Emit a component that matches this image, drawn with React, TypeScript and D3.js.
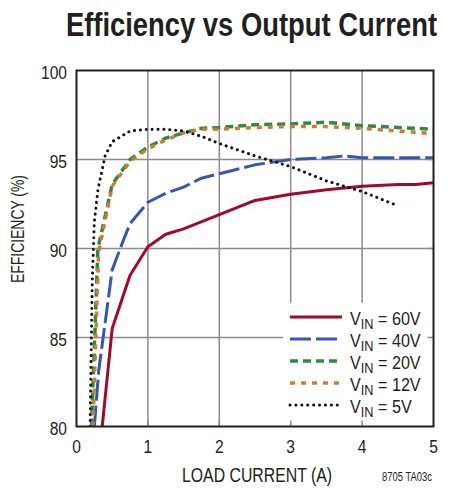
import * as d3 from "d3";

// load current (A) / efficiency (%)
const cur60 = [0.36, 0.5, 0.75, 1.0, 1.25, 1.5, 2.0, 2.5, 3.0, 3.5, 4.0, 4.5, 4.75, 5.0];
const eff60 = [80, 85.5, 88.5, 90.1, 90.8, 91.1, 91.9, 92.7, 93.05, 93.3, 93.5, 93.6, 93.6, 93.7];

const cur40 = [0.25, 0.31, 0.5, 0.66, 0.75, 1.0, 1.25, 1.5, 1.75, 2.0, 2.5, 3.0, 3.5, 3.75, 4.0, 4.5, 5.0];
const eff40 = [80, 83.1, 88.8, 90.5, 91.4, 92.6, 93.1, 93.45, 93.95, 94.2, 94.7, 95.0, 95.1, 95.2, 95.1, 95.1, 95.1];

const cur20 = [0.21, 0.3, 0.5, 0.75, 1.0, 1.25, 1.5, 1.75, 2.0, 2.5, 3.0, 3.5, 3.75, 4.0, 4.5, 5.0];
const eff20 = [80, 90.0, 93.6, 95.0, 95.7, 96.2, 96.5, 96.75, 96.8, 96.95, 97.0, 97.1, 97.0, 96.9, 96.8, 96.7];

const cur12 = [0.23, 0.31, 0.5, 0.75, 1.0, 1.25, 1.5, 1.75, 2.0, 2.5, 3.0, 3.5, 4.0, 4.5, 5.0];
const eff12 = [80, 89.8, 93.5, 94.9, 95.6, 96.1, 96.5, 96.7, 96.7, 96.8, 96.85, 96.85, 96.75, 96.6, 96.45];

const cur5 = [0.19, 0.22, 0.25, 0.3, 0.4, 0.5, 0.75, 1.0, 1.25, 1.5, 1.75, 2.0, 2.5, 3.0, 3.5, 4.0, 4.5];
const eff5 = [80, 88, 91.5, 93.3, 95.2, 96.0, 96.6, 96.7, 96.7, 96.6, 96.3, 95.9, 95.2, 94.6, 93.8, 93.2, 92.4];

const xTicks = [0, 1, 2, 3, 4, 5];
const yTicks = [80, 85, 90, 95, 100];

const seriesNames = ["60V", "40V", "20V", "12V", "5V"];

// no condensed face installed, so Liberation Sans gets squeezed horizontally
const FONT = "'Liberation Sans', Arial, sans-serif";
const INK = "#231f20";

const series = [
  { name: seriesNames[0], cur: cur60, eff: eff60, color: "#9c0a2f", dash: "none", width: 3, cap: "butt" },
  { name: seriesNames[1], cur: cur40, eff: eff40, color: "#3557b3", dash: "21 5", width: 3, cap: "butt" },
  { name: seriesNames[2], cur: cur20, eff: eff20, color: "#2e8a40", dash: "8 5", width: 3.5, cap: "butt" },
  { name: seriesNames[3], cur: cur12, eff: eff12, color: "#cb7d35", dash: "5 6", width: 3.5, cap: "butt" },
  { name: seriesNames[4], cur: cur5, eff: eff5, color: "#111111", dash: "0.1 5.8", width: 3, cap: "round" },
];

const squeeze = (x: number, y: number, k = 0.82) => `translate(${x},${y}) scale(${k},1)`;

export default function App() {
  const width = 453;
  const height = 500;
  const plot = { left: 76.5, right: 433.5, top: 70.5, bottom: 426.5 };

  const x = d3.scaleLinear().domain([0, 5]).range([plot.left, plot.right]);
  const y = d3.scaleLinear().domain([80, 100]).range([plot.bottom, plot.top]);

  const line = d3
    .line<[number, number]>()
    .x((d) => x(d[0]))
    .y((d) => y(d[1]));

  // legend box, white, hides the grid underneath
  const legend = { x0: 283, y0: 303, rowY: 317, step: 22, lineX0: 290, lineX1: 342, textX: 350 };

  return (
    <svg
      width={width}
      height={height}
      style={{ position: "absolute", left: 0, top: 0, background: "#fff" }}
      fontFamily={FONT}
    >
      <defs>
        <clipPath id="plot-clip">
          <rect x={plot.left} y={plot.top} width={plot.right - plot.left} height={plot.bottom - plot.top} />
        </clipPath>
      </defs>

      <text
        transform={squeeze(251.5, 36, 0.83)}
        fontSize={33}
        fontWeight="bold"
        fill={INK}
        textAnchor="middle"
      >
        Efficiency vs Output Current
      </text>

      {/* Gridlines */}
      <g stroke="#8c8c8c" strokeWidth={1.5}>
        {xTicks.slice(1, -1).map((t) => (
          <line key={"gx" + t} x1={x(t)} x2={x(t)} y1={plot.top} y2={plot.bottom} />
        ))}
        {yTicks.slice(1, -1).map((t) => (
          <line key={"gy" + t} x1={plot.left} x2={plot.right} y1={y(t)} y2={y(t)} />
        ))}
      </g>

      {/* Curves */}
      <g clipPath="url(#plot-clip)" fill="none">
        {series.map((s) => (
          <path
            key={s.name}
            d={line(s.cur.map((c, i) => [c, s.eff[i]] as [number, number])) || ""}
            stroke={s.color}
            strokeWidth={s.width}
            strokeDasharray={s.dash}
            strokeLinecap={s.cap as any}
            strokeLinejoin="round"
          />
        ))}
      </g>

      <rect
        x={legend.x0}
        y={legend.y0}
        width={plot.right - legend.x0}
        height={plot.bottom - legend.y0}
        fill="#fff"
      />

      {/* small inward ticks */}
      <g stroke="#8c8c8c" strokeWidth={1.5}>
        {xTicks.slice(1, -1).map((t) => (
          <line key={"tx" + t} x1={x(t)} x2={x(t)} y1={plot.bottom} y2={plot.bottom - 6} />
        ))}
        {yTicks.slice(1, -1).map((t) => (
          <line key={"ty" + t} x1={plot.right} x2={plot.right - 6} y1={y(t)} y2={y(t)} />
        ))}
      </g>

      <rect
        x={plot.left}
        y={plot.top}
        width={plot.right - plot.left}
        height={plot.bottom - plot.top}
        fill="none"
        stroke={INK}
        strokeWidth={2}
      />

      {/* Legend */}
      {series.map((s, i) => {
        const ly = legend.rowY + i * legend.step;
        return (
          <g key={"lg" + s.name}>
            <line
              x1={legend.lineX0}
              x2={legend.lineX1}
              y1={ly}
              y2={ly}
              stroke={s.color}
              strokeWidth={s.width}
              strokeDasharray={s.dash}
              strokeLinecap={s.cap as any}
            />
            <text transform={squeeze(legend.textX, ly + 7.5, 0.85)} fontSize={19} fill={INK}>
              V
              <tspan dy={4} fontSize={15}>IN</tspan>
              <tspan dy={-4}>{" = " + s.name}</tspan>
            </text>
          </g>
        );
      })}

      {/* Tick labels */}
      <g fill={INK} fontSize={19}>
        {yTicks.map((t) => (
          <text key={"yl" + t} transform={squeeze(67, y(t) + 8.5)} textAnchor="end">
            {t}
          </text>
        ))}
        {xTicks.map((t) => (
          <text key={"xl" + t} transform={squeeze(x(t), 453)} textAnchor="middle">
            {t}
          </text>
        ))}
      </g>

      <text
        x={257}
        y={482}
        fontSize={19.5}
        textAnchor="middle"
        fill={INK}
        textLength={150}
        lengthAdjust="spacingAndGlyphs"
      >
        LOAD CURRENT (A)
      </text>
      <text
        transform="translate(24,229) rotate(-90)"
        fontSize={18}
        textAnchor="middle"
        fill={INK}
        textLength={108}
        lengthAdjust="spacingAndGlyphs"
      >
        EFFICIENCY (%)
      </text>
      <text
        x={432}
        y={481}
        fontSize={12}
        textAnchor="end"
        fill={INK}
        textLength={50}
        lengthAdjust="spacingAndGlyphs"
      >
        8705 TA03c
      </text>
    </svg>
  );
}
